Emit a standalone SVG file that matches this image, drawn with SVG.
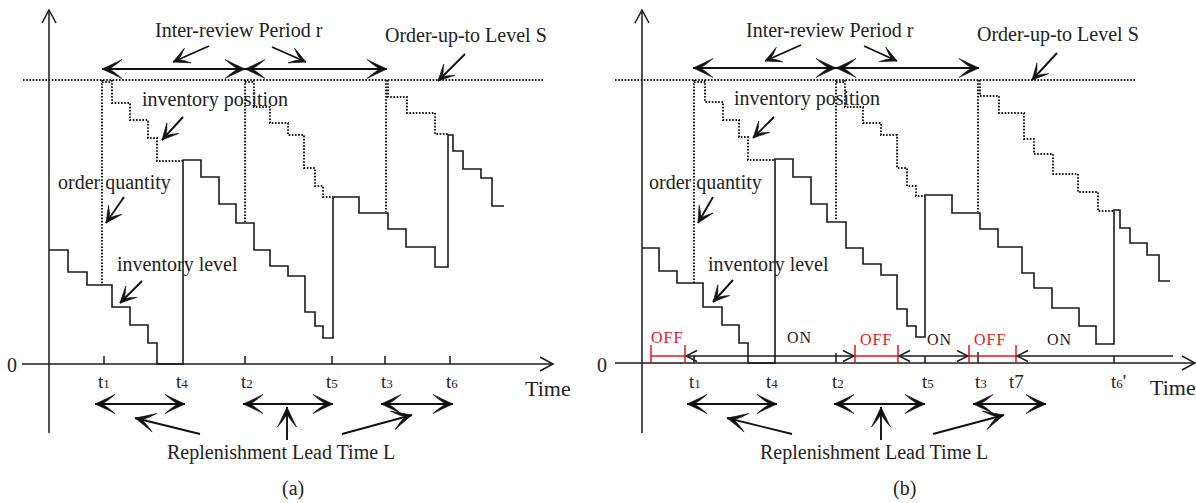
<svg xmlns="http://www.w3.org/2000/svg" width="1196" height="503" viewBox="0 0 1196 503">
<style>
  text { font-family: "Liberation Serif", "Times New Roman", serif; fill: #222; }
  .lbl { font-size: 20px; }
  .t { font-size: 19px; }
  .sub { font-size: 13px; }
  .time { font-size: 22px; }
  .zero { font-size: 20px; }
  .onoff { font-size: 16px; letter-spacing: 1px; }
  .red { fill: #e8141c; }
  .ax { stroke: #1a1a1a; stroke-width: 1.5; fill: none; }
  .lvl { stroke: #1a1a1a; stroke-width: 1.6; fill: none; }
  .dot { stroke: #1a1a1a; stroke-width: 2; fill: none; stroke-dasharray: 1.6 1.6; }
  .arr { stroke: #111; stroke-width: 1.9; fill: none; }
  .rl { stroke: #e8141c; stroke-width: 1.5; fill: none; }
  .onl { stroke: #1a1a1a; stroke-width: 1.4; fill: none; }
</style>
<defs>
  <marker id="big" viewBox="-22 -11 23 22" refX="0" refY="0" markerWidth="23" markerHeight="22" markerUnits="userSpaceOnUse" orient="auto-start-reverse">
    <path d="M0,0 Q-10,-4.5 -20,-9.5 Q-12,-2.5 -7,0 Q-12,2.5 -20,9.5 Q-10,4.5 0,0 Z" fill="#111" stroke="#111" stroke-width="0.6"/>
  </marker>
  <marker id="sm" viewBox="-18 -9 19 18" refX="0" refY="0" markerWidth="19" markerHeight="18" markerUnits="userSpaceOnUse" orient="auto-start-reverse">
    <path d="M0,0 Q-8,-4 -16,-8 Q-10,-2 -5.5,0 Q-10,2 -16,8 Q-8,4 0,0 Z" fill="#111" stroke="#111" stroke-width="0.6"/>
  </marker>
  <marker id="axh" viewBox="-15 -9 17 18" refX="0" refY="0" markerWidth="17" markerHeight="18" markerUnits="userSpaceOnUse" orient="auto">
    <path d="M-13,-7 L0,0 L-13,7" fill="none" stroke="#1a1a1a" stroke-width="1.5"/>
  </marker>
  <marker id="onh" viewBox="-13 -7 14 14" refX="0" refY="0" markerWidth="14" markerHeight="14" markerUnits="userSpaceOnUse" orient="auto-start-reverse">
    <path d="M-11,-5.5 L0,0 L-11,5.5" fill="none" stroke="#1a1a1a" stroke-width="1.4"/>
  </marker>
</defs>

<!-- ================= Panel (a) ================= -->
<g id="panel-a">
  <g id="a-axes">
    <line class="ax" x1="49" y1="433" x2="49" y2="10" marker-end="url(#axh)"/>
    <line class="ax" x1="22" y1="364" x2="553" y2="364" marker-end="url(#axh)"/>
    <path class="ax" d="M104,356 V364 M245,356 V364 M332,356 V364 M385,356 V364 M450,356 V364"/>
    <text class="zero" x="7" y="372">0</text>
    <text class="time" x="525" y="396">Time</text>
  </g>
  <g id="a-level-S">
    <line class="dot" x1="23" y1="80" x2="543" y2="80"/>
  </g>
  <g id="a-inventory-level">
    <path class="lvl" d="M49,250 H68 V272 H87 V285 H112 V307 H130 V325 H148 V343 H157 V364 H183 V160 H201 V177 H219 V204 H236 V223 H254 V250 H270 V266 H288 V276 H305 V312 H315 V326 H323 V338 H333 V197 H359 V213 H388 V229 H406 V247 H435 V267 H448 V135 H453 V151 H463 V169 H481 V178 H492 V206 H504"/>
  </g>
  <g id="a-inventory-position">
    <path class="dot" d="M102,80 V284 M245,80 V222 M386,80 V212 M102,82 H112 M245,82 H254"/>
    <path class="dot" d="M112,80 V103 H130 V120 H148 V138 H157 V161 H183"/>
    <path class="dot" d="M254,80 V107 H270 V123 H288 V135 H304 V168 H315 V186 H323 V197 H333"/>
    <path class="dot" d="M388,80 V97 H407 V113 H435 V134 H448"/>
  </g>
  <g id="a-labels">
    <text class="lbl" x="155" y="37">Inter-review Period r</text>
    <text class="lbl" x="385" y="42">Order-up-to Level S</text>
    <text class="lbl" x="142" y="106">inventory position</text>
    <text class="lbl" x="58" y="189">order quantity</text>
    <text class="lbl" x="117" y="271">inventory level</text>
    <text class="lbl" x="167" y="459">Replenishment Lead Time L</text>
    <text class="lbl" x="282" y="495">(a)</text>
    <text class="t" x="98" y="388">t<tspan class="sub">1</tspan></text>
    <text class="t" x="176" y="388">t<tspan class="sub">4</tspan></text>
    <text class="t" x="241" y="388">t<tspan class="sub">2</tspan></text>
    <text class="t" x="326" y="388">t<tspan class="sub">5</tspan></text>
    <text class="t" x="381" y="388">t<tspan class="sub">3</tspan></text>
    <text class="t" x="446" y="388">t<tspan class="sub">6</tspan></text>
  </g>
</g>

<!-- ================= Panel (b) ================= -->
<g id="panel-b">
  <g id="b-axes">
    <line class="ax" x1="642" y1="433" x2="642" y2="10" marker-end="url(#axh)"/>
    <line class="ax" x1="615" y1="363" x2="1195" y2="363" marker-end="url(#axh)"/>
    <path class="ax" d="M694,356 V363 M836,353 V363 M925,356 V363 M978,352 V363 M1114,356 V363"/>
    <text class="zero" x="597" y="372">0</text>
    <text class="time" x="1150" y="395">Time</text>
  </g>
  <g id="b-level-S">
    <line class="dot" x1="615" y1="80" x2="1135" y2="80"/>
  </g>
  <g id="b-inventory-level">
    <path class="lvl" d="M642,248 H659 V271 H677 V283 H703 V307 H722 V325 H739 V343 H748 V363 H775 V159 H793 V177 H811 V204 H827 V222 H846 V248 H863 V264 H881 V275 H897 V309 H907 V326 H916 V337 H925 V195 H952 V213 H980 V229 H998 V247 H1022 V273 H1034 V288 H1052 V308 H1079 V326 H1096 V344 H1114 V210 H1120 V228 H1130 V243 H1147 V255 H1159 V281 H1170"/>
  </g>
  <g id="b-inventory-position">
    <path class="dot" d="M694,80 V283 M836,80 V220 M978,80 V212 M694,82 H705 M836,82 H845"/>
    <path class="dot" d="M705,80 V102 H723 V120 H739 V137 H748 V160 H775"/>
    <path class="dot" d="M845,80 V107 H863 V123 H881 V135 H897 V168 H907 V186 H916 V196 H925"/>
    <path class="dot" d="M980,80 V96 H999 V113 H1024 V139 H1034 V154 H1053 V174 H1078 V192 H1098 V211 H1114"/>
  </g>
  <g id="b-onoff">
    <path class="rl" d="M651,356 H685 M651,345 V363 M685,345 V363"/>
    <path class="rl" d="M855,356 H898 M855,345 V363 M898,345 V363"/>
    <path class="rl" d="M969,356 H1016 M969,345 V363 M1016,345 V363"/>
    <line class="onl" x1="686" y1="356" x2="854" y2="356" marker-start="url(#onh)" marker-end="url(#onh)"/>
    <line class="onl" x1="899" y1="356" x2="968" y2="356" marker-start="url(#onh)" marker-end="url(#onh)"/>
    <line class="onl" x1="1017" y1="356" x2="1173" y2="356" marker-start="url(#onh)"/>
    <text class="onoff red" x="651" y="343">OFF</text>
    <text class="onoff" x="787" y="343">ON</text>
    <text class="onoff red" x="860" y="345">OFF</text>
    <text class="onoff" x="927" y="345">ON</text>
    <text class="onoff red" x="974" y="345">OFF</text>
    <text class="onoff" x="1047" y="345">ON</text>
  </g>
  <g id="b-labels">
    <text class="lbl" x="746" y="37">Inter-review Period r</text>
    <text class="lbl" x="977" y="41">Order-up-to Level S</text>
    <text class="lbl" x="734" y="105">inventory position</text>
    <text class="lbl" x="649" y="189">order quantity</text>
    <text class="lbl" x="708" y="271">inventory level</text>
    <text class="lbl" x="760" y="459">Replenishment Lead Time L</text>
    <text class="lbl" x="893" y="495">(b)</text>
    <text class="t" x="689" y="388">t<tspan class="sub">1</tspan></text>
    <text class="t" x="766" y="388">t<tspan class="sub">4</tspan></text>
    <text class="t" x="832" y="388">t<tspan class="sub">2</tspan></text>
    <text class="t" x="922" y="388">t<tspan class="sub">5</tspan></text>
    <text class="t" x="975" y="388">t<tspan class="sub">3</tspan></text>
    <text class="t" x="1009" y="388">t7</text>
    <text class="t" x="1111" y="388">t<tspan class="sub">6</tspan>'</text>
  </g>
</g>

<!-- ================= Connectors ================= -->
<g id="connectors">
  <!-- panel (a) -->
  <line class="arr" x1="102" y1="69" x2="245" y2="69" marker-start="url(#big)" marker-end="url(#big)"/>
  <line class="arr" x1="245" y1="69" x2="387" y2="69" marker-start="url(#big)" marker-end="url(#big)"/>
  <line class="arr" x1="209" y1="46" x2="173" y2="62" marker-end="url(#sm)"/>
  <line class="arr" x1="272" y1="47" x2="306" y2="62" marker-end="url(#sm)"/>
  <line class="arr" x1="465" y1="54" x2="438" y2="81" marker-end="url(#sm)"/>
  <line class="arr" x1="183" y1="117" x2="162" y2="140" marker-end="url(#sm)"/>
  <line class="arr" x1="124" y1="197" x2="106" y2="223" marker-end="url(#sm)"/>
  <line class="arr" x1="142" y1="281" x2="120" y2="303" marker-end="url(#sm)"/>
  <line class="arr" x1="95" y1="404" x2="185" y2="404" marker-start="url(#big)" marker-end="url(#big)"/>
  <line class="arr" x1="200" y1="434" x2="135" y2="418" marker-end="url(#big)"/>
  <line class="arr" x1="243" y1="404" x2="333" y2="404" marker-start="url(#big)" marker-end="url(#big)"/>
  <line class="arr" x1="287" y1="440" x2="287" y2="407" marker-end="url(#big)"/>
  <line class="arr" x1="381" y1="404" x2="453" y2="404" marker-start="url(#big)" marker-end="url(#big)"/>
  <line class="arr" x1="342" y1="434" x2="412" y2="415" marker-end="url(#big)"/>
  <!-- panel (b) -->
  <line class="arr" x1="693" y1="68" x2="836" y2="68" marker-start="url(#big)" marker-end="url(#big)"/>
  <line class="arr" x1="836" y1="68" x2="979" y2="68" marker-start="url(#big)" marker-end="url(#big)"/>
  <line class="arr" x1="801" y1="45" x2="765" y2="61" marker-end="url(#sm)"/>
  <line class="arr" x1="864" y1="46" x2="897" y2="61" marker-end="url(#sm)"/>
  <line class="arr" x1="1057" y1="53" x2="1032" y2="80" marker-end="url(#sm)"/>
  <line class="arr" x1="774" y1="117" x2="753" y2="138" marker-end="url(#sm)"/>
  <line class="arr" x1="713" y1="197" x2="698" y2="223" marker-end="url(#sm)"/>
  <line class="arr" x1="733" y1="280" x2="713" y2="302" marker-end="url(#sm)"/>
  <line class="arr" x1="687" y1="404" x2="777" y2="404" marker-start="url(#big)" marker-end="url(#big)"/>
  <line class="arr" x1="792" y1="434" x2="727" y2="418" marker-end="url(#big)"/>
  <line class="arr" x1="834" y1="404" x2="925" y2="404" marker-start="url(#big)" marker-end="url(#big)"/>
  <line class="arr" x1="881" y1="440" x2="881" y2="407" marker-end="url(#big)"/>
  <line class="arr" x1="973" y1="404" x2="1046" y2="404" marker-start="url(#big)" marker-end="url(#big)"/>
  <line class="arr" x1="933" y1="434" x2="1004" y2="415" marker-end="url(#big)"/>
</g>
</svg>
